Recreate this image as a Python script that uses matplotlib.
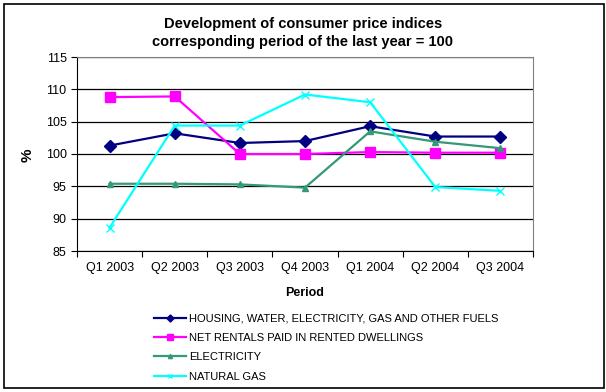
import matplotlib
matplotlib.use("Agg")
import matplotlib.pyplot as plt
from matplotlib.patches import Rectangle

categories = ["Q1 2003", "Q2 2003", "Q3 2003", "Q4 2003", "Q1 2004", "Q2 2004", "Q3 2004"]
housing = [101.3, 103.2, 101.7, 102.0, 104.3, 102.7, 102.7]
rentals = [108.8, 108.9, 100.0, 100.0, 100.3, 100.2, 100.2]
electricity = [95.4, 95.4, 95.3, 94.8, 103.5, 101.9, 100.9]
natural_gas = [88.6, 104.4, 104.4, 109.2, 108.0, 94.9, 94.3]
series_names = ["HOUSING, WATER, ELECTRICITY, GAS AND OTHER FUELS",
                "NET RENTALS PAID IN RENTED DWELLINGS",
                "ELECTRICITY",
                "NATURAL GAS"]
yticks = [85, 90, 95, 100, 105, 110, 115]

plt.rcParams['font.family'] = ['Liberation Sans', 'DejaVu Sans']

fig = plt.figure(figsize=(6.06, 3.92), dpi=100)
W, H = 606, 392
fig.patches.append(Rectangle((4 / W, 4 / H), 600 / W, 384 / H, transform=fig.transFigure,
                             fill=False, edgecolor='black', linewidth=1.2))

ax = fig.add_axes([77 / W, 1 - 251 / H, (533 - 77) / W, (251 - 57) / H])
x = list(range(len(categories)))

ax.plot(x, housing, color='#000080', marker='D', markersize=6, linewidth=1.6, label=series_names[0])
ax.plot(x, rentals, color='#FF00FF', marker='s', markersize=7, linewidth=1.6, label=series_names[1])
ax.plot(x, electricity, color='#339977', marker='^', markersize=5, linewidth=1.6, label=series_names[2])
ax.plot(x, natural_gas, color='#00FFFF', marker='x', markersize=6, markeredgewidth=1, linewidth=1.6, label=series_names[3])

ax.set_xlim(-0.5, len(categories) - 0.5)
ax.set_ylim(85, 115)
ax.set_yticks(yticks)
ax.set_yticklabels([str(v) for v in yticks], fontsize=9)
ax.yaxis.grid(True, color='black', linewidth=0.9)
ax.set_axisbelow(True)

ax.set_xticks([i - 0.5 for i in range(len(categories) + 1)])
ax.set_xticklabels([])
ax.set_xticks(x, minor=True)
ax.set_xticklabels(categories, minor=True, fontsize=9)
ax.tick_params(axis='x', which='major', length=4, direction='out', color='black')
ax.tick_params(axis='x', which='minor', length=0, pad=8)
ax.tick_params(axis='y', length=4, direction='out', color='black')

for s in ['top', 'right']:
    ax.spines[s].set_color('#808080')
for s in ['left', 'bottom']:
    ax.spines[s].set_color('black')

fig.text(0.5, 1 - 33 / H, "Development of consumer price indices\ncorresponding period of the last year = 100",
         ha='center', va='center', fontsize=10.5, fontweight='bold', linespacing=1.4)
fig.text(28 / W, 1 - 155 / H, "%", ha='center', va='center', fontsize=11, fontweight='bold', rotation=90)
fig.text(305 / W, 1 - 293 / H, "Period", ha='center', va='center', fontsize=9, fontweight='bold')

handles, labels = ax.get_legend_handles_labels()
fig.legend(handles, labels, loc='upper left', bbox_to_anchor=(150 / W, 1 - 309 / H),
           frameon=False, fontsize=8, handlelength=2.8, handletextpad=0.3,
           labelspacing=0.85, markerscale=0.6, borderaxespad=0)

fig.savefig("out.png", dpi=100)
